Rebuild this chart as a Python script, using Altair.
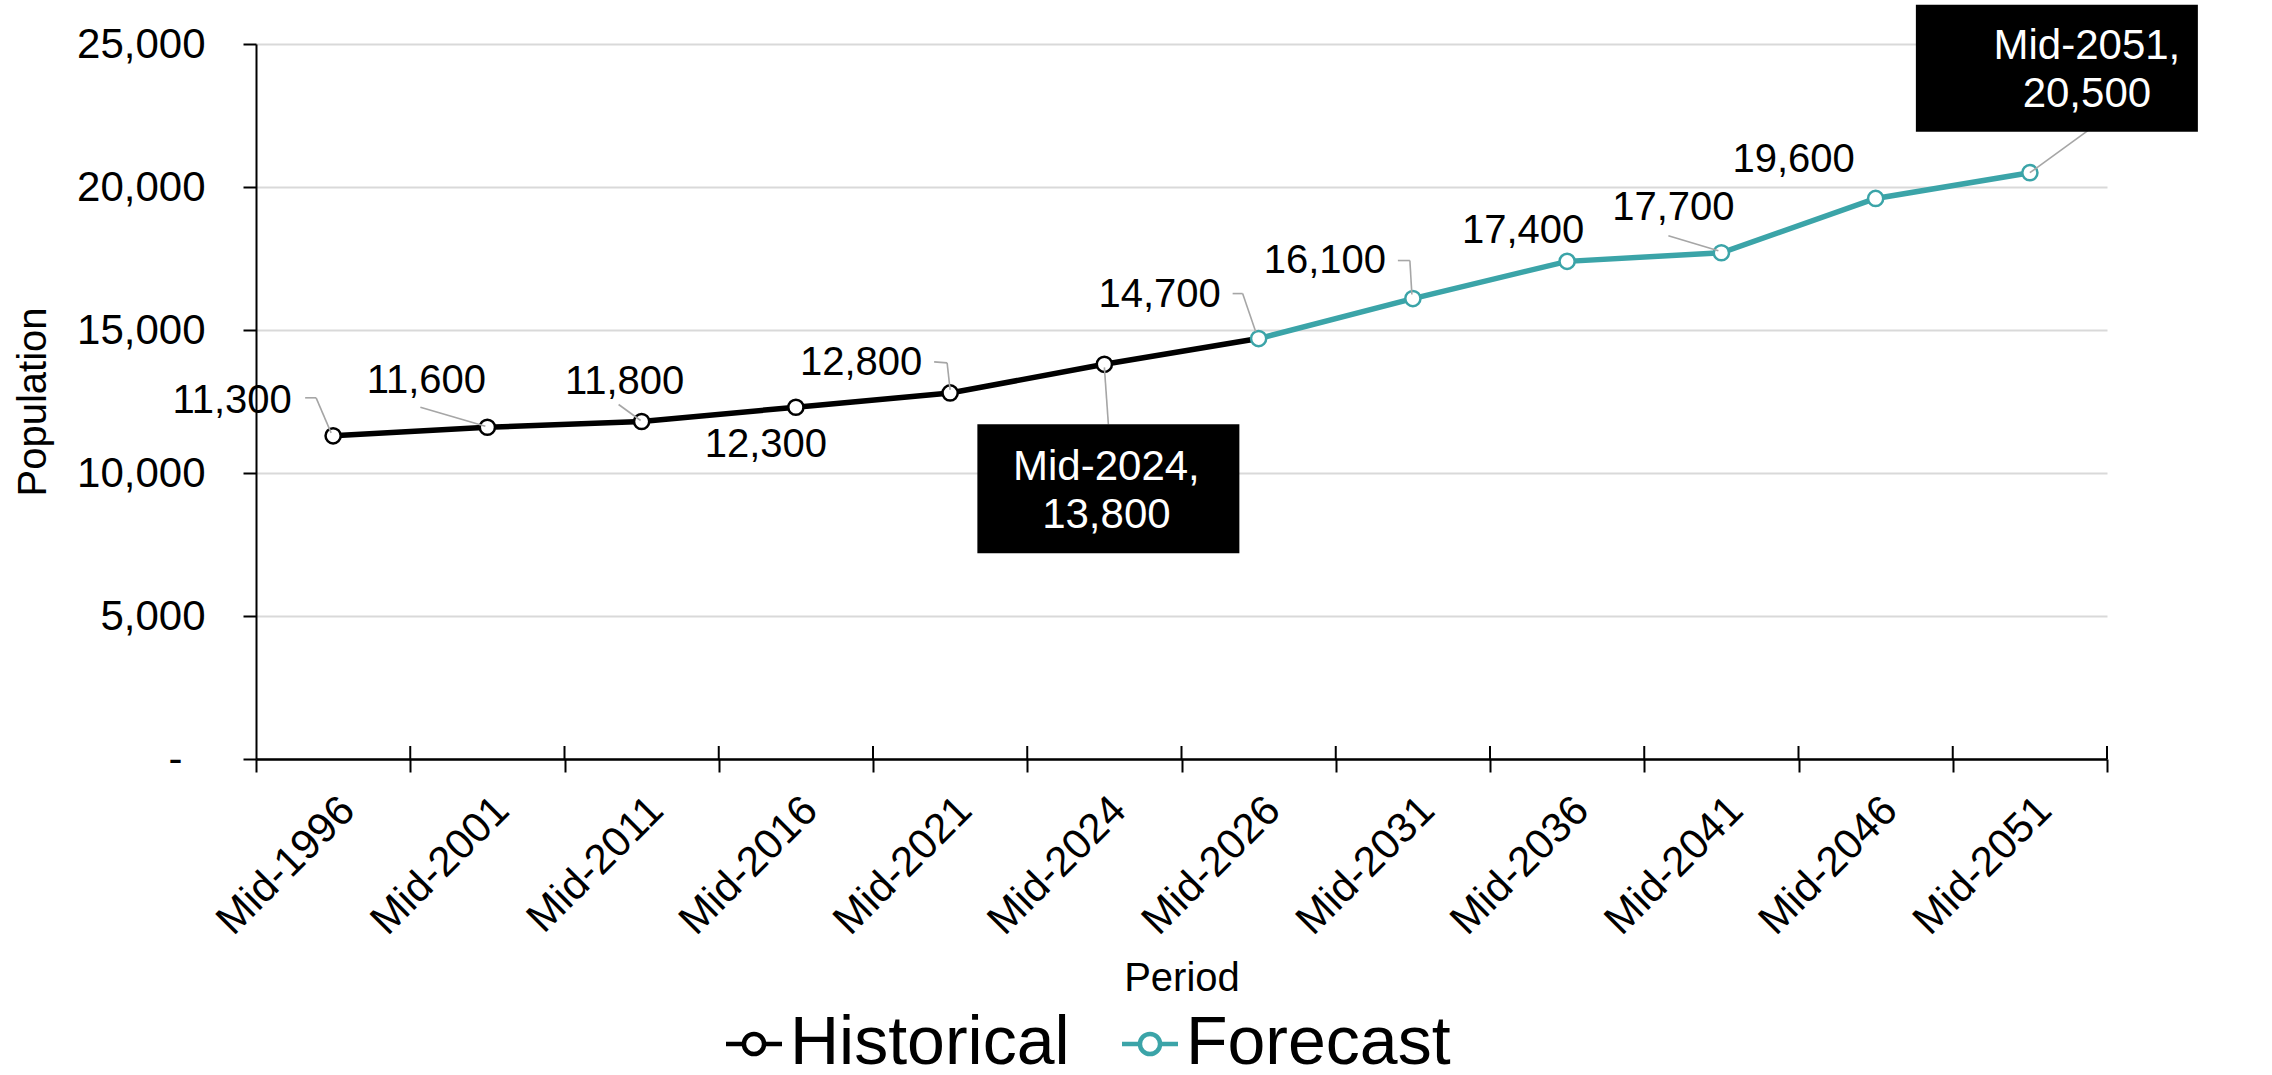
import altair as alt
import pandas as pd

# ---- data -------------------------------------------------------------
periods = ["Mid-1996", "Mid-2001", "Mid-2011", "Mid-2016", "Mid-2021", "Mid-2024",
           "Mid-2026", "Mid-2031", "Mid-2036", "Mid-2041", "Mid-2046", "Mid-2051"]
population = [11300, 11600, 11800, 12300, 12800, 13800,
              14700, 16100, 17400, 17700, 19600, 20500]
series = ["Historical"] * 6 + ["Forecast"] * 6
series_order = ["Historical", "Forecast"]
y_ticks = [0, 5000, 10000, 15000, 20000, 25000]

# periods shown in a black call-out box instead of a plain label
callout_periods = ["Mid-2024", "Mid-2051"]

# ---- styling ----------------------------------------------------------
FONT = "Liberation Sans"
HIST = "#000000"
TEAL = "#3BA4A8"
GRID = "#D9D9D9"
LEADER = "#A6A6A6"
W, H = 1851, 715

# label placement (pixel offsets from the point, text baseline)
label_offsets = {
    "Mid-1996": (-101, -23), "Mid-2001": (-61, -34), "Mid-2011": (-17, -28),
    "Mid-2016": (-30, 50), "Mid-2021": (-89, -18), "Mid-2026": (-99, -32),
    "Mid-2031": (-88, -26), "Mid-2036": (-44, -18), "Mid-2041": (-48, -33),
    "Mid-2046": (-82, -26),
}
# leader segments (pixel offsets from the point)
leader_segments = {
    "Mid-1996": [((-28, -38), (-17, -38)), ((-17, -38), (-2, -3))],
    "Mid-2001": [((-67, -20), (-2, -1))],
    "Mid-2011": [((-23, -17), (-1, -1))],
    "Mid-2021": [((-16, -31), (-3, -30)), ((-3, -30), (0, -3))],
    "Mid-2024": [((0, 3), (4, 60))],
    "Mid-2026": [((-26, -45), (-16, -45)), ((-16, -45), (-3, -7))],
    "Mid-2031": [((-15, -38), (-3, -38)), ((-3, -38), (-1, -4))],
    "Mid-2041": [((-53, -17), (-3, -2))],
    "Mid-2051": [((58, -42), (0, 0))],
}
# call-out boxes: (x shift, width, top offset, bottom offset, text dx, first-line dy)
callout_style = {
    "Mid-2024": (4, 262, 60, 189, 2, 116),
    "Mid-2051": (27, 282, -168, -41, 57, -114),
}

points = pd.DataFrame({"period": periods, "population": population, "series": series})
# the historical line runs on to the first forecast period so both lines join
bridge = points[points.series == "Forecast"].iloc[[0]].assign(series="Historical")
lines = pd.concat([points[points.series == "Historical"], bridge,
                   points[points.series == "Forecast"]], ignore_index=True)

x_axis = alt.Axis(
    tickBand="extent", grid=False, labelAngle=-45, labelFont=FONT, labelFontSize=42,
    labelColor="black", labelPadding=17, tickSize=13, tickColor="black", tickWidth=2,
    domainColor="black", domainWidth=2.5, title="Period", titleFont=FONT,
    titleFontSize=40, titleFontWeight="normal", titleColor="black",
    titleX=W / 2, titleY=231, titleAlign="center", titleBaseline="alphabetic",
)
y_axis = alt.Axis(
    values=y_ticks,
    labelExpr="datum.value == 0 ? '-' : format(datum.value, ',')",
    labelFont=FONT, labelFontSize=42, labelColor="black",
    labelPadding={"condition": {"test": "datum.value == 0", "value": 61}, "value": 38},
    tickSize=13, tickColor="black", tickWidth=2, domainColor="black", domainWidth=2,
    grid=True, gridColor=GRID, gridWidth=2,
    title="Population", titleFont=FONT, titleFontSize=40, titleFontWeight="normal",
    titleColor="black", titleAngle=270, titleX=-211, titleY=H / 2,
    titleAlign="center", titleBaseline="alphabetic",
)

X = alt.X("period:N", sort=periods, axis=x_axis,
          scale=alt.Scale(paddingInner=0, paddingOuter=0))
Y = alt.Y("population:Q", axis=y_axis, scale=alt.Scale(domain=[0, 25000], nice=False))
Y2 = alt.Y2("population:Q")
X2 = alt.X2("period:N")

legend_symbol = ("M-1,0H-0.36M0.36,0H1"
                 "M0.36,0A0.36,0.36 0 1,1 -0.36,0A0.36,0.36 0 1,1 0.36,0Z")

line_layer = alt.Chart(lines).mark_line(strokeWidth=5.5).encode(
    x=X, y=Y,
    color=alt.Color(
        "series:N",
        scale=alt.Scale(domain=series_order, range=[HIST, TEAL]),
        legend=alt.Legend(
            title=None, orient="none", legendX=464, legendY=966,
            direction="horizontal", symbolType=legend_symbol, symbolSize=3136,
            symbolStrokeWidth=4.5, symbolFillColor="white", labelFont=FONT,
            labelFontSize=68, labelColor="black", labelOffset=2, labelLimit=1000,
            columnPadding=43, padding=0,
        ),
    ),
    detail="series:N",
)

# upper half of the x-axis tick marks (ticks cross the axis line)
tick_layer = alt.Chart(points).mark_rule(color="black", strokeWidth=2).encode(
    x=alt.X("period:N", sort=periods, axis=x_axis, bandPosition=1,
            scale=alt.Scale(paddingInner=0, paddingOuter=0)),
    y=alt.value(H - 13), y2=alt.value(H),
)

point_layer = alt.Chart(points).mark_point(
    shape="circle", filled=True, fill="white", size=230, strokeWidth=2.5, opacity=1
).encode(
    x=X, y=Y,
    stroke=alt.Stroke("series:N", scale=alt.Scale(domain=series_order, range=[HIST, TEAL]),
                      legend=None),
)

layers = [line_layer, tick_layer, point_layer]

for p, segs in leader_segments.items():
    for (x1, y1), (x2, y2) in segs:
        layers.append(
            alt.Chart(points).transform_filter(alt.datum.period == p).mark_rule(
                color=LEADER, strokeWidth=1.6,
                xOffset=x1, yOffset=y1, x2Offset=x2, y2Offset=y2,
            ).encode(x=X, x2=X2, y=Y, y2=Y2)
        )

for p, (dx, dy) in label_offsets.items():
    layers.append(
        alt.Chart(points).transform_filter(alt.datum.period == p).mark_text(
            font=FONT, fontSize=40, color="black", align="center",
            baseline="alphabetic", dx=dx, dy=dy,
        ).encode(x=X, y=Y, text=alt.Text("population:Q", format=","))
    )

for p in callout_periods:
    xs, bw, top, bottom, tdx, tdy = callout_style[p]
    sel = alt.Chart(points).transform_filter(alt.datum.period == p)
    layers.append(
        sel.mark_bar(color="black", width=bw, xOffset=xs, yOffset=top, y2Offset=bottom)
        .encode(x=X, y=Y, y2=Y2)
    )
    layers.append(
        sel.transform_calculate(
            callout="datum.period + ',\\n' + format(datum.population, ',')"
        ).mark_text(
            font=FONT, fontSize=42, color="white", align="center", baseline="alphabetic",
            lineBreak="\n", lineHeight=48, dx=tdx, dy=tdy,
        ).encode(x=X, y=Y, text="callout:N")
    )

chart = alt.layer(*layers).properties(
    width=W, height=H,
    autosize=alt.AutoSizeParams(type="none"),
    padding={"left": 256, "top": 44, "right": 165, "bottom": 316},
    background="white",
).configure_view(stroke=None)

chart.save("out.html", embed_options={"renderer": "svg", "actions": False})
